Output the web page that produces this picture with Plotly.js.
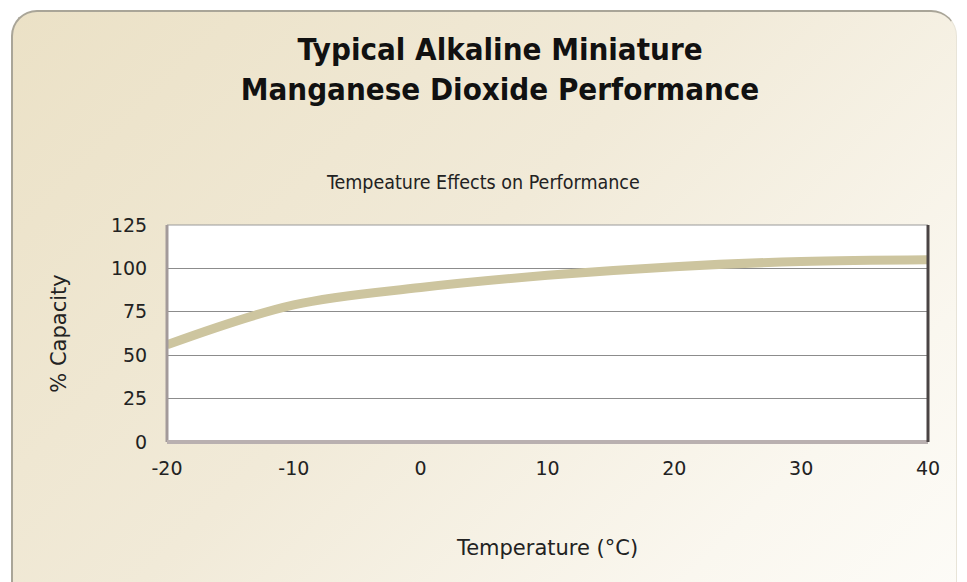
<!DOCTYPE html>
<html>
<head>
<meta charset="utf-8">
<script src="https://cdn.plot.ly/plotly-3.0.1.min.js"></script>
<style>
  html, body { margin:0; padding:0; width:967px; height:582px; overflow:hidden; background:#ffffff; }
  #frame {
    position:absolute; left:11px; top:10px; width:946px; height:610px;
    border-radius:26px;
    border-top:2px solid #a9a598; border-left:2px solid #a9a598;
    border-right:1px solid #e8e4d8;
    background:linear-gradient(135deg, #ebe1c6 0%, #f1ead8 45%, #faf7ef 80%, #fdfcf8 100%);
    box-sizing:border-box;
  }
  #chart { position:absolute; left:0; top:0; width:967px; height:582px; }
</style>
</head>
<body>
<div id="frame"></div>
<div id="chart"></div>
<script>
const temperatures = [-20, -10, 0, 10, 20, 30, 40];
const capacity = [56, 79, 89, 96, 101, 104, 105];
const xTicks = [-20, -10, 0, 10, 20, 30, 40];
const yTicks = [0, 25, 50, 75, 100, 125];

const trace = {
  x: temperatures,
  y: capacity,
  type: 'scatter',
  mode: 'lines',
  line: { shape: 'spline', smoothing: 1.0, color: '#cdc59f', width: 9 },
  hoverinfo: 'x+y'
};

const layout = {
  width: 967, height: 582,
  margin: { l: 167, r: 39, t: 225, b: 140 },
  paper_bgcolor: 'rgba(0,0,0,0)',
  plot_bgcolor: '#ffffff',
  showlegend: false,
  title: {
    text: 'Typical Alkaline Miniature<br>Manganese Dioxide Performance',
    font: { family: 'DejaVu Sans Condensed, DejaVu Sans, sans-serif', size: 31, color: '#111111', weight: 'bold' },
    x: 500/967, xanchor: 'center', xref: 'container',
    y: 1 - 60/582, yanchor: 'middle', yref: 'container'
  },
  xaxis: {
    range: [-20, 40], tickvals: xTicks, ticktext: xTicks.map(String),
    showgrid: false, zeroline: false, showline: false,
    ticks: 'outside', ticklen: 9, tickcolor: 'rgba(0,0,0,0)',
    tickfont: { family: 'DejaVu Sans, sans-serif', size: 19, color: '#222222' },
    title: { text: 'Temperature (°C)', standoff: 62,
             font: { family: 'DejaVu Sans, sans-serif', size: 21, color: '#222222' } },
    fixedrange: true
  },
  yaxis: {
    range: [0, 125], tickvals: yTicks, ticktext: yTicks.map(String),
    showgrid: true, gridcolor: '#8c8c8c', gridwidth: 1,
    zeroline: false, showline: false,
    ticks: 'outside', ticklen: 15, tickcolor: 'rgba(0,0,0,0)',
    tickfont: { family: 'DejaVu Sans, sans-serif', size: 19, color: '#222222' },
    title: { text: '% Capacity', standoff: 38,
             font: { family: 'DejaVu Sans, sans-serif', size: 21, color: '#222222' } },
    fixedrange: true
  },
  annotations: [{
    text: 'Tempeature Effects on Performance',
    xref: 'paper', yref: 'paper', x: (483 - 167) / 761, xanchor: 'center',
    y: (442 - 182) / 217, yanchor: 'middle', showarrow: false,
    font: { family: 'DejaVu Sans Condensed, DejaVu Sans, sans-serif', size: 19.5, color: '#222222' }
  }],
  shapes: [
    { type: 'line', xref: 'paper', yref: 'paper', x0: 0, x1: 1, y0: 1, y1: 1, line: { color: '#9a9a9a', width: 1 } },
    { type: 'line', xref: 'paper', yref: 'paper', x0: 0, x1: 0, y0: 0, y1: 1, line: { color: '#a39a9a', width: 3 } },
    { type: 'line', xref: 'paper', yref: 'paper', x0: 0, x1: 1, y0: 0, y1: 0, line: { color: '#b9b0b0', width: 4 } },
    { type: 'line', xref: 'paper', yref: 'paper', x0: 1, x1: 1, y0: 0, y1: 1, line: { color: '#4a4444', width: 3 } }
  ]
};

Plotly.newPlot('chart', [trace], layout, { displayModeBar: false });
</script>
</body>
</html>
